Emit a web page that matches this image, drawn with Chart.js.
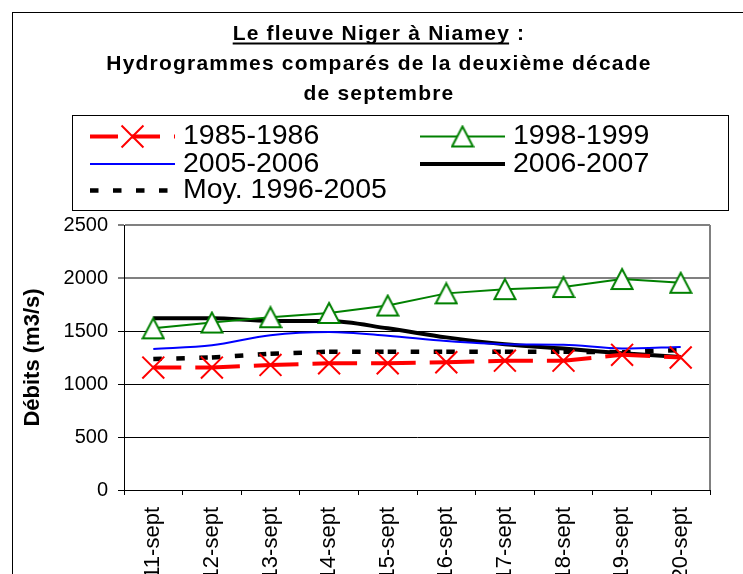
<!DOCTYPE html>
<html>
<head>
<meta charset="utf-8">
<script src="https://cdn.jsdelivr.net/npm/chart.js@4.4.1/dist/chart.umd.min.js"></script>
<style>
  html, body { margin: 0; padding: 0; background: #fff; overflow: hidden; }
  canvas { display: block; }
</style>
</head>
<body>
<canvas id="c" width="743" height="574"></canvas>
<script>
// ---- Data ----
const categories = ['11-sept', '12-sept', '13-sept', '14-sept', '15-sept', '16-sept', '17-sept', '18-sept', '19-sept', '20-sept'];
const serie1985_1986 = [1155, 1155, 1180, 1195, 1195, 1205, 1220, 1220, 1275, 1250];
const serie1998_1999 = [1525, 1580, 1630, 1670, 1740, 1855, 1895, 1915, 1990, 1955];
const serie2005_2006 = [1330, 1365, 1460, 1490, 1455, 1405, 1375, 1370, 1335, 1350];
const serie2006_2007 = [1620, 1620, 1595, 1595, 1525, 1440, 1375, 1335, 1290, 1255];
const serieMoy1996_2005 = [1235, 1250, 1285, 1305, 1305, 1305, 1305, 1305, 1300, 1320];
const seriesNames = ['1985-1986', '1998-1999', '2005-2006', '2006-2007', 'Moy. 1996-2005'];
const yTicks = [0, 500, 1000, 1500, 2000, 2500];
const titleLine1 = 'Le fleuve Niger à Niamey';
const titleLine1Suffix = ' :';
const titleLine2 = 'Hydrogrammes comparés de la deuxième décade';
const titleLine3 = 'de septembre';
const yAxisTitle = 'Débits (m3/s)';

const FONT = '"Liberation Sans", Arial, Helvetica, sans-serif';
Chart.defaults.font.family = FONT;
Chart.defaults.color = '#000';

// hollow triangle marker (bbox centred on the point)
function makeTriangle() {
  const c = document.createElement('canvas');
  c.width = 24; c.height = 24;
  const g = c.getContext('2d');
  g.beginPath();
  g.moveTo(12, 2);
  g.lineTo(1.5, 22);
  g.lineTo(22.5, 22);
  g.closePath();
  g.fillStyle = '#fff';
  g.fill();
  g.lineWidth = 2;
  g.strokeStyle = '#008000';
  g.stroke();
  return c;
}
const triangle = makeTriangle();

// restart dash pattern at every data point (as Excel does)
const restartDash = { borderDashOffset: ctx => (ctx.p0DataIndex % 2 ? 0.01 : 0) };

const datasets = [
  {
    label: seriesNames[0], data: serie1985_1986,
    borderColor: '#FF0000', borderWidth: 4, borderDash: [28, 14],
    pointStyle: 'crossRot', pointRadius: 15.5, pointBorderWidth: 2,
    pointBorderColor: '#FF0000', pointBackgroundColor: '#FF0000',
    tension: 0, segment: restartDash
  },
  {
    label: seriesNames[1], data: serie1998_1999,
    borderColor: '#008000', borderWidth: 2,
    pointStyle: triangle, pointRadius: 11,
    tension: 0
  },
  {
    label: seriesNames[2], data: serie2005_2006,
    borderColor: '#0000FF', borderWidth: 2, pointRadius: 0,
    cubicInterpolationMode: 'monotone'
  },
  {
    label: seriesNames[3], data: serie2006_2007,
    borderColor: '#000000', borderWidth: 4, pointRadius: 0,
    cubicInterpolationMode: 'monotone'
  },
  {
    label: seriesNames[4], data: serieMoy1996_2005,
    borderColor: '#000000', borderWidth: 4.5, borderDash: [8.5, 14.5],
    pointRadius: 0, tension: 0, segment: restartDash
  }
];

const decor = {
  id: 'decor',
  beforeDraw(chart) {
    const ctx = chart.ctx;
    ctx.save();
    ctx.fillStyle = '#fff';
    ctx.fillRect(0, 0, chart.width, chart.height);
    ctx.strokeStyle = '#000';
    ctx.lineWidth = 1;
    ctx.strokeRect(12.5, 12.5, chart.width + 40, chart.height + 40);
    ctx.restore();
  },
  beforeDatasetsDraw(chart) {
    const ctx = chart.ctx, a = chart.chartArea;
    ctx.save();
    ctx.strokeStyle = '#808080';
    ctx.lineWidth = 2;
    ctx.beginPath();
    ctx.moveTo(a.right, a.top);
    ctx.lineTo(a.right, a.bottom);
    ctx.stroke();
    ctx.restore();
  },
  afterDraw(chart) {
    const ctx = chart.ctx;
    ctx.save();
    // title
    ctx.fillStyle = '#000';
    ctx.font = 'bold 21px ' + FONT;
    if ('letterSpacing' in ctx) ctx.letterSpacing = '1.2px';
    ctx.textBaseline = 'alphabetic';
    const cx = 379;
    const full = titleLine1 + titleLine1Suffix;
    const wFull = ctx.measureText(full).width;
    const wMain = ctx.measureText(titleLine1).width;
    const x1 = cx - wFull / 2;
    ctx.textAlign = 'left';
    ctx.fillText(full, x1, 39.5);
    ctx.fillRect(x1, 42.5, wMain - 1, 2);
    ctx.textAlign = 'center';
    ctx.fillText(titleLine2, cx, 70);
    ctx.fillText(titleLine3, cx, 99.5);
    if ('letterSpacing' in ctx) ctx.letterSpacing = '0px';

    // legend box
    ctx.strokeStyle = '#000';
    ctx.lineWidth = 1;
    ctx.strokeRect(72.5, 115.5, 656, 95);

    const rows = [136.5, 164, 190.5];
    const cols = [90, 420];
    const len = 85;
    ctx.font = '28.5px ' + FONT;
    ctx.textAlign = 'left';
    ctx.textBaseline = 'middle';
    chart.data.datasets.forEach((ds, i) => {
      const x0 = cols[i % 2];
      const y = rows[Math.floor(i / 2)];
      ctx.save();
      ctx.strokeStyle = ds.borderColor;
      ctx.lineWidth = ds.borderWidth;
      ctx.lineCap = 'butt';
      ctx.setLineDash(ds.borderDash || []);
      ctx.lineDashOffset = 0;
      ctx.beginPath();
      ctx.moveTo(x0, y);
      ctx.lineTo(x0 + len, y);
      ctx.stroke();
      ctx.setLineDash([]);
      if (ds.pointRadius > 0) {
        ctx.strokeStyle = ds.pointBorderColor || ds.borderColor;
        ctx.fillStyle = ds.pointBackgroundColor || '#fff';
        ctx.lineWidth = ds.pointBorderWidth || 1;
        Chart.helpers.drawPoint(ctx, {
          pointStyle: ds.pointStyle, radius: ds.pointRadius, rotation: 0,
          borderWidth: ds.pointBorderWidth || 1
        }, x0 + len / 2, y);
      }
      ctx.restore();
      ctx.fillStyle = '#000';
      ctx.fillText(ds.label, x0 + 93, y);
    });
    ctx.restore();
  }
};

new Chart(document.getElementById('c'), {
  type: 'line',
  data: { labels: categories, datasets },
  options: {
    responsive: false,
    animation: false,
    events: [],
    layout: { padding: { left: 16, top: 225, right: 33, bottom: 0 } },
    plugins: {
      legend: { display: false },
      title: { display: false },
      tooltip: { enabled: false }
    },
    scales: {
      x: {
        type: 'category',
        offset: true,
        afterFit(scale) { scale.height = 84; },
        grid: { offset: true, drawOnChartArea: false, tickLength: 5, color: '#000', tickColor: '#000' },
        border: { color: '#000', width: 1 },
        ticks: {
          autoSkip: false, minRotation: 90, maxRotation: 90,
          padding: 12, color: '#000', font: { size: 22 }
        }
      },
      y: {
        min: 0, max: 2500,
        afterFit(scale) { scale.width = 108; },
        afterBuildTicks(scale) { scale.ticks = yTicks.map(v => ({ value: v })); },
        grid: {
          color: c => (c.tick && c.tick.value >= 2000) ? '#808080' : '#000',
          lineWidth: c => (c.tick && c.tick.value >= 2000) ? 2 : 1,
          tickColor: '#000', tickWidth: 1, tickLength: 6
        },
        border: { color: '#000', width: 1 },
        ticks: {
          padding: 10, color: '#000', font: { size: 20 },
          callback: v => String(v)
        },
        title: {
          display: true, text: yAxisTitle, color: '#000',
          font: { size: 22, weight: 'bold' }, padding: { top: 4, bottom: 4 }
        }
      }
    }
  },
  plugins: [decor]
});
</script>
</body>
</html>
